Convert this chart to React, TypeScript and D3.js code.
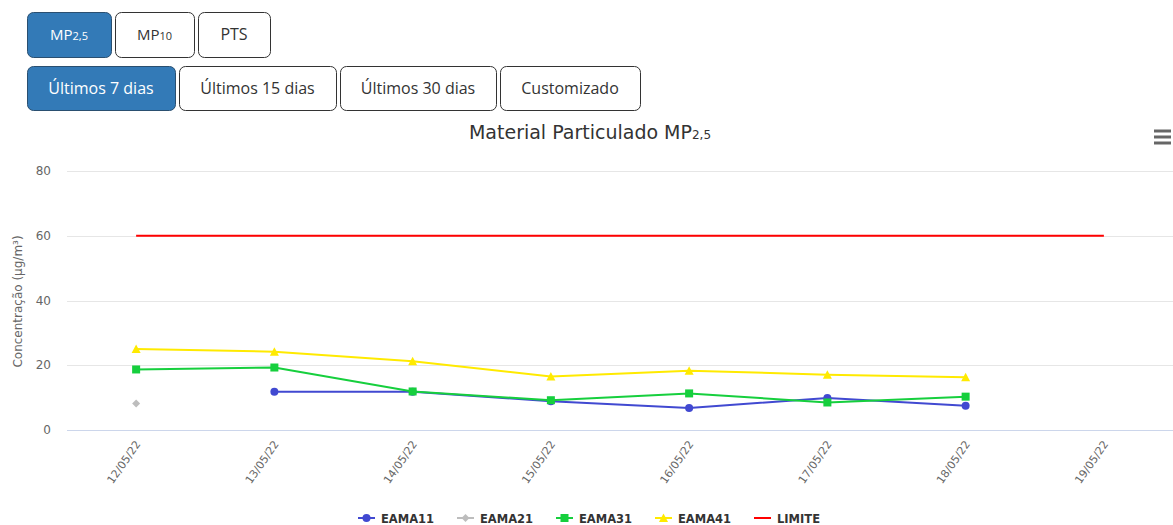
import * as d3 from 'd3';
import React, { useRef, useEffect } from 'react';

const categories = ['12/05/22', '13/05/22', '14/05/22', '15/05/22', '16/05/22', '17/05/22', '18/05/22', '19/05/22'];

const eama11 = [null, 11.8, 11.8, 8.9, 6.8, 9.9, 7.5, null];
const eama21 = [8.2, null, null, null, null, null, null, null];
const eama31 = [18.7, 19.3, 11.9, 9.2, 11.3, 8.5, 10.3, null];
const eama41 = [25.0, 24.2, 21.2, 16.5, 18.3, 17.1, 16.3, null];
const limite = [60, 60, 60, 60, 60, 60, 60, 60];

const yTicks = [0, 20, 40, 60, 80];

const pollutantButtons = ['MP', 'MP', 'PTS'];
const pollutantSubs = ['2,5', '10', ''];
const periodButtons = ['Últimos 7 dias', 'Últimos 15 dias', 'Últimos 30 dias', 'Customizado'];

const series = [
    { name: 'EAMA11', data: eama11, color: '#4149d1', symbol: 'circle' },
    { name: 'EAMA21', data: eama21, color: '#bdbdbd', symbol: 'diamond' },
    { name: 'EAMA31', data: eama31, color: '#16cf3d', symbol: 'square' },
    { name: 'EAMA41', data: eama41, color: '#ffea00', symbol: 'triangle' },
    { name: 'LIMITE', data: limite, color: '#ff0000', symbol: 'none' },
];

const W = 1173, H = 525;
const chartFont = '"DejaVu Sans", sans-serif';
const btnFont = '"Open Sans", sans-serif';

function App() {
    const ref = useRef<SVGSVGElement>(null);

    useEffect(() => {
        const svg = d3.select(ref.current);
        svg.selectAll('*').remove();

        // buttons
        const drawButton = (x: number, y: number, w: number, h: number, label: string, sub: string, active: boolean) => {
            const g = svg.append('g');
            g.append('rect')
                .attr('x', x + 0.5).attr('y', y + 0.5).attr('width', w).attr('height', h)
                .attr('rx', 6).attr('ry', 6)
                .attr('fill', active ? '#337ab7' : '#fff')
                .attr('stroke', active ? '#2a4f70' : '#333');
            const t = g.append('text')
                .attr('x', x + w / 2).attr('y', y + h / 2 + 5.5)
                .attr('text-anchor', 'middle')
                .attr('font-family', btnFont).attr('font-size', sub ? 15 : 16)
                .attr('fill', active ? '#fff' : '#333')
                .text(label);
            if (sub) t.append('tspan').attr('font-size', 11).text(sub);
        };
        const row1 = [[27, 84], [115, 79], [198, 72]];
        pollutantButtons.forEach((b, i) => drawButton(row1[i][0], 12, row1[i][1], 45, b, pollutantSubs[i], i === 0));
        const row2 = [[27, 148], [179, 157], [340, 156], [500, 140]];
        periodButtons.forEach((b, i) => drawButton(row2[i][0], 66, row2[i][1], 44, b, '', i === 0));

        // title
        const title = svg.append('text')
            .attr('x', 590).attr('y', 139)
            .attr('text-anchor', 'middle')
            .attr('font-family', chartFont).attr('font-size', 19)
            .attr('fill', '#333')
            .text('Material Particulado MP');
        title.append('tspan').attr('font-size', 12).text('2,5');

        // menu icon
        [131, 137, 143].forEach(y => {
            svg.append('line').attr('x1', 1154).attr('x2', 1171).attr('y1', y).attr('y2', y)
                .attr('stroke', '#666').attr('stroke-width', 3);
        });

        const left = 67, right = 1173, top = 171, bottom = 430;
        const x = d3.scalePoint<string>().domain(categories).range([left, right]).padding(0.5);
        const y = d3.scaleLinear().domain([0, 80]).range([bottom, top]);

        // grid
        yTicks.forEach(t => {
            svg.append('line')
                .attr('x1', left).attr('x2', right)
                .attr('y1', Math.round(y(t)) + 0.5).attr('y2', Math.round(y(t)) + 0.5)
                .attr('stroke', t === 0 ? '#ccd6eb' : '#e6e6e6');
            svg.append('text')
                .attr('x', 51).attr('y', y(t) + 4)
                .attr('text-anchor', 'end')
                .attr('font-family', chartFont).attr('font-size', 12)
                .attr('fill', '#666')
                .text(t);
        });

        svg.append('text')
            .attr('transform', `translate(22, ${(top + bottom) / 2 + 1}) rotate(-90)`)
            .attr('text-anchor', 'middle')
            .attr('font-family', chartFont).attr('font-size', 12)
            .attr('fill', '#666')
            .text('Concentração (µg/m³)');

        // x labels
        categories.forEach(c => {
            svg.append('text')
                .attr('transform', `translate(${x(c)! + 5}, ${bottom + 14}) rotate(-55)`)
                .attr('text-anchor', 'end')
                .attr('font-family', chartFont).attr('font-size', 11)
                .attr('fill', '#666')
                .text(c);
        });

        const drawSymbol = (g: any, sym: string, cx: number, cy: number, color: string) => {
            if (sym === 'circle') g.append('circle').attr('cx', cx).attr('cy', cy).attr('r', 4).attr('fill', color);
            else if (sym === 'square') g.append('rect').attr('x', cx - 4).attr('y', cy - 4).attr('width', 8).attr('height', 8).attr('fill', color);
            else if (sym === 'triangle') g.append('path').attr('d', `M${cx},${cy - 4.5}L${cx + 4.5},${cy + 4}L${cx - 4.5},${cy + 4}Z`).attr('fill', color);
            else if (sym === 'diamond') g.append('path').attr('d', `M${cx},${cy - 4}L${cx + 4},${cy}L${cx},${cy + 4}L${cx - 4},${cy}Z`).attr('fill', color);
        };

        series.forEach(s => {
            const g = svg.append('g');
            const line = d3.line<number | null>()
                .defined(d => d !== null)
                .x((_, i) => x(categories[i])!)
                .y(d => y(d as number));
            g.append('path')
                .attr('d', line(s.data))
                .attr('fill', 'none')
                .attr('stroke', s.color)
                .attr('stroke-width', 2)
                .attr('stroke-linejoin', 'round');
            s.data.forEach((d, i) => {
                if (d !== null) drawSymbol(g, s.symbol, x(categories[i])!, y(d), s.color);
            });
        });

        // legend
        const legendX = [358, 457, 556, 655, 754];
        series.forEach((s, i) => {
            const g = svg.append('g');
            const lx = legendX[i], ly = 518;
            g.append('line').attr('x1', lx).attr('x2', lx + 17).attr('y1', ly).attr('y2', ly)
                .attr('stroke', s.color).attr('stroke-width', 2);
            drawSymbol(g, s.symbol, lx + 8.5, ly, s.color);
            g.append('text')
                .attr('x', lx + 23).attr('y', ly + 4.5)
                .attr('font-family', chartFont).attr('font-size', 11.5).attr('font-weight', 'bold')
                .attr('fill', '#333')
                .text(s.name);
        });
    }, []);

    return (
        <div style={{ position: 'absolute', left: 0, top: 0 }}>
            <svg ref={ref} width={W} height={H} style={{ display: 'block' }}></svg>
        </div>
    );
}

export default App;
